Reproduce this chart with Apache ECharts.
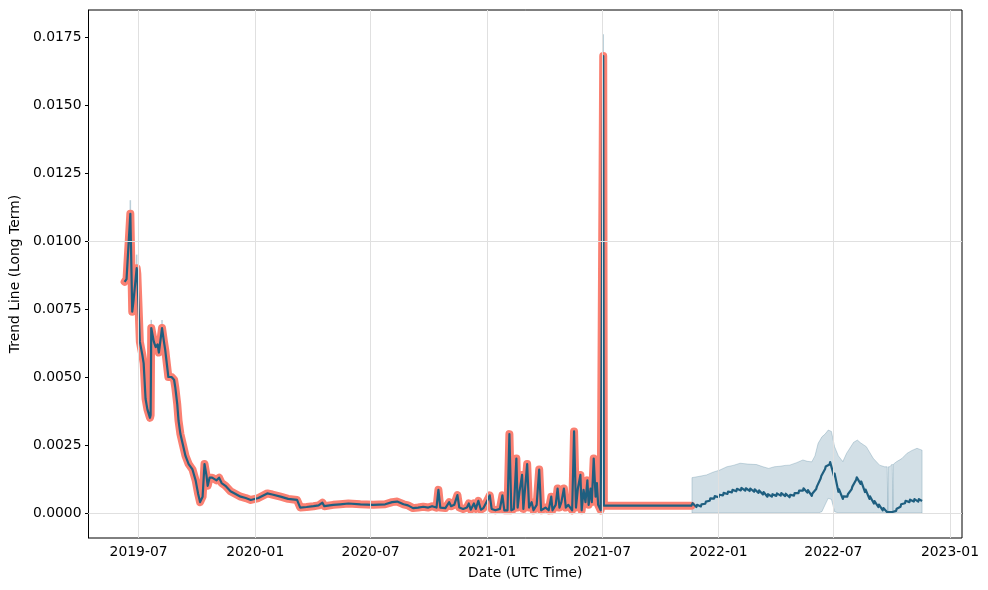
<!DOCTYPE html>
<html><head><meta charset="utf-8">
<script src="https://cdn.jsdelivr.net/npm/echarts@6/dist/echarts.min.js"></script>
<style>html,body{margin:0;padding:0;background:#fff}#c{width:988px;height:590px}</style>
</head><body><div id="c"></div>
<script>
// ---- Historical (actual) series ----
const histDates = [
 '2019-06-09','2019-06-12','2019-06-18','2019-06-21','2019-06-23','2019-06-28','2019-06-29',
 '2019-07-03','2019-07-07','2019-07-09','2019-07-12','2019-07-15','2019-07-19','2019-07-20','2019-07-21',
 '2019-07-25','2019-07-28','2019-07-31','2019-08-02','2019-08-07','2019-08-10','2019-08-12','2019-08-17',
 '2019-08-22','2019-08-26','2019-08-28','2019-08-31','2019-09-02','2019-09-05','2019-09-09','2019-09-13',
 '2019-09-18','2019-09-24','2019-09-29','2019-10-03','2019-10-06','2019-10-10','2019-10-13','2019-10-16',
 '2019-10-18','2019-10-21','2019-10-25','2019-11-01','2019-11-05','2019-11-09','2019-11-15','2019-11-23',
 '2019-12-01','2019-12-09','2019-12-17','2019-12-25','2020-01-06','2020-01-20','2020-01-28','2020-02-10',
 '2020-02-22','2020-03-07','2020-03-12','2020-03-22','2020-04-02','2020-04-10','2020-04-16','2020-04-19',
 '2020-05-03','2020-05-14','2020-05-27','2020-05-29','2020-06-15','2020-07-05','2020-07-24','2020-08-04',
 '2020-08-12','2020-08-22','2020-08-29','2020-09-06','2020-09-14','2020-09-22','2020-09-30','2020-10-06',
 '2020-10-13','2020-10-16','2020-10-19','2020-10-27','2020-11-02','2020-11-05','2020-11-10','2020-11-15',
 '2020-11-18','2020-11-24','2020-11-30','2020-12-03','2020-12-06','2020-12-11','2020-12-14','2020-12-18',
 '2020-12-22','2020-12-26','2021-01-02','2021-01-05','2021-01-08','2021-01-14','2021-01-21','2021-01-25',
 '2021-01-28','2021-02-02','2021-02-05','2021-02-08','2021-02-12','2021-02-16','2021-02-18','2021-02-21',
 '2021-02-25','2021-02-27','2021-03-05','2021-03-08','2021-03-12','2021-03-15','2021-03-20','2021-03-24',
 '2021-03-27','2021-04-03','2021-04-08','2021-04-12','2021-04-14','2021-04-19','2021-04-22','2021-04-25',
 '2021-04-28','2021-05-02','2021-05-05','2021-05-09','2021-05-12','2021-05-15','2021-05-18','2021-05-21',
 '2021-05-24','2021-05-28','2021-05-30','2021-06-02','2021-06-05','2021-06-08','2021-06-10','2021-06-13',
 '2021-06-15','2021-06-18','2021-06-21','2021-06-23','2021-06-25','2021-06-29','2021-07-02','2021-07-03',
 '2021-07-04','2021-08-15','2021-10-01','2021-11-19'
];
const histValues = [
 0.0085,0.0086,0.0110,0.0074,0.0078,0.0090,0.0088,
 0.0063,0.0058,0.0055,0.0042,0.0038,0.0035,0.0036,0.0068,
 0.0063,0.0061,0.0062,0.0059,0.0068,0.0063,0.0060,0.0050,
 0.0050,0.0049,0.0046,0.0040,0.0034,0.0029,0.0025,0.0021,
 0.0018,0.0016,0.0012,0.0007,0.0004,0.0006,0.0018,0.0014,
 0.0010,0.0013,0.0013,0.0012,0.0013,0.0011,0.0010,0.0008,
 0.0007,0.0006,0.00055,0.00048,0.00055,0.00072,0.00068,0.0006,
 0.00052,0.00048,0.0002,0.00022,0.00025,0.00028,0.00038,0.00025,
 0.0003,0.00032,0.00035,0.0004,0.00032,0.0003,0.00032,0.0004,
 0.00042,0.00032,0.00028,0.00018,0.0002,0.00023,0.0002,0.00025,
 0.0002,0.00085,0.0002,0.00018,0.0004,0.00025,0.0003,0.00066,
 0.0002,0.00015,0.0002,0.00035,0.00012,0.00035,0.00015,0.00045,
 0.00012,0.00018,0.0005,0.00065,0.00015,0.0001,0.00015,0.00065,
 0.0001,0.0001,0.0029,0.0001,0.00015,0.0020,0.0002,0.0008,
 0.0014,0.00015,0.0018,0.0002,0.0004,0.0001,0.0003,0.0016,
 0.0001,0.0002,0.0001,0.0006,0.0001,0.0003,0.0009,0.0002,
 0.0004,0.0009,0.0002,0.0003,0.0002,0.0001,0.0030,0.0002,
 0.0009,0.0014,0.0001,0.00085,0.0004,0.0012,0.0003,0.0009,
 0.0004,0.0020,0.0006,0.0011,0.0003,0.0001,0.00015,0.0168,
 0.00027,0.00027,0.00027,0.00027
];
// ---- Upper uncertainty visible above historical peaks ----
const histBandDates = ['2019-06-18','2019-06-28','2019-07-21','2019-08-07','2021-07-03'];
const histBandLow   = [0.0110,0.0090,0.0068,0.0068,0.0168];
const histBandHigh  = [0.0115,0.0095,0.0071,0.0071,0.0176];
// ---- Forecast trend (weekly base and weekly bump) ----
const fcDates = [
 '2021-11-20','2021-11-27','2021-12-04','2021-12-11','2021-12-18','2021-12-25','2022-01-01','2022-01-08',
 '2022-01-15','2022-01-22','2022-01-29','2022-02-05','2022-02-12','2022-02-19','2022-02-26','2022-03-05',
 '2022-03-12','2022-03-19','2022-03-26','2022-04-02','2022-04-09','2022-04-16','2022-04-23','2022-04-30',
 '2022-05-07','2022-05-14','2022-05-21','2022-05-28','2022-06-04','2022-06-11','2022-06-18','2022-06-25',
 '2022-07-02','2022-07-09','2022-07-16','2022-07-23','2022-07-30','2022-08-06','2022-08-13','2022-08-20',
 '2022-08-27','2022-09-03','2022-09-10','2022-09-17','2022-09-24','2022-10-01','2022-10-08','2022-10-15',
 '2022-10-22','2022-10-29','2022-11-05','2022-11-12'
];
const fcBase = [
 0.00028,0.00022,0.00024,0.00034,0.00045,0.00053,0.00058,0.00065,
 0.0007,0.00076,0.0008,0.00083,0.00082,0.00081,0.00078,0.00074,
 0.00068,0.0006,0.0006,0.00063,0.00064,0.00062,0.00058,0.00064,
 0.00073,0.00082,0.00075,0.00063,0.00088,0.00127,0.00162,0.00178,
 0.00136,0.00078,0.00052,0.0006,0.00088,0.00122,0.00107,0.00077,
 0.00052,0.00035,0.00022,0.0001,0.00003,0.00003,0.00008,0.00023,
 0.00036,0.0004,0.00042,0.00042
];
const fcPeak = [
 0.00036,0.0003,0.00032,0.00042,0.00054,0.00062,0.00067,0.00074,
 0.00079,0.00085,0.00089,0.00092,0.00091,0.0009,0.00087,0.00083,
 0.00077,0.00069,0.00069,0.00072,0.00073,0.00071,0.00067,0.00073,
 0.00082,0.00091,0.00084,0.00072,0.00097,0.00136,0.00171,0.00187,
 0.00145,0.00087,0.00061,0.00069,0.00097,0.00131,0.00116,0.00086,
 0.00061,0.00044,0.00031,0.00018,0.00008,0.00008,0.00016,0.00032,
 0.00045,0.00049,0.00051,0.00051
];
const fcEndDate = '2022-11-18';
const fcEndValue = 0.00044;
// ---- Forecast uncertainty band ----
const bandDates = [
 '2021-11-20','2021-12-02','2021-12-13','2021-12-23','2022-01-03','2022-01-14','2022-01-24','2022-02-04',
 '2022-02-16','2022-03-02','2022-03-12','2022-03-21','2022-03-30','2022-04-08','2022-04-16','2022-04-23',
 '2022-05-04','2022-05-14','2022-05-21','2022-05-28','2022-06-02','2022-06-07','2022-06-13','2022-06-18',
 '2022-06-23','2022-06-28','2022-07-03','2022-07-09','2022-07-16','2022-07-22','2022-07-27','2022-08-02',
 '2022-08-08','2022-08-13','2022-08-22','2022-09-02','2022-09-12','2022-09-20','2022-09-24','2022-09-25',
 '2022-09-26','2022-09-28','2022-10-02','2022-10-03','2022-10-04','2022-10-09','2022-10-17','2022-10-25',
 '2022-11-02','2022-11-10','2022-11-18'
];
const bandUpper = [
 0.0013,0.00135,0.0014,0.0015,0.00158,0.0017,0.00175,0.00183,
 0.0018,0.00178,0.0017,0.00164,0.0017,0.00172,0.00175,0.00176,
 0.00185,0.00195,0.0019,0.00188,0.0021,0.00256,0.0028,0.0029,
 0.00305,0.003,0.00244,0.0021,0.00189,0.0022,0.00238,0.0026,
 0.00268,0.00258,0.00244,0.00201,0.00176,0.0017,0.0017,0.00005,
 0.0017,0.0017,0.0018,0.00005,0.0018,0.00189,0.002,0.00219,
 0.0023,0.00238,0.00231
];
const bandLower = [
 0,0,0,0,0,0,0,0,
 0,0,0,0,0,0,0,0,
 0,0,0,0,0,0,0.00005,0.0003,
 0.00054,0.0005,0.00005,0,0,0,0,0,
 0,0,0,0,0,0,0,0,
 0,0,0,0,0,0,0,0,
 0,0,0
];
const xTickLabels = ['2019-07','2020-01','2020-07','2021-01','2021-07','2022-01','2022-07','2023-01'];
const yTickValues = [0,0.0025,0.005,0.0075,0.01,0.0125,0.015,0.0175];

const DAY = 86400000;
const ts = s => { const p = s.split('-').map(Number); return Date.UTC(p[0], p[1]-1, p[2] || 1); };
const xTicks = xTickLabels.map(ts);
const pad = n => (n < 10 ? '0' : '') + n;
const fmtX = v => { const d = new Date(v); return d.getUTCFullYear() + '-' + pad(d.getUTCMonth()+1); };

const actual = histDates.map((d,i) => [ts(d), histValues[i]]);
const fcLine = [];
fcDates.forEach((d,i) => { fcLine.push([ts(d), fcBase[i]]); fcLine.push([ts(d) + DAY, fcPeak[i]]); });
fcLine.push([ts(fcEndDate), fcEndValue]);
const yhat = histDates.map((d,i) => [ts(d), histValues[i]]).concat(fcLine);
const bandT = bandDates.map(ts);
const bandData = bandDates.map((d,i) => [bandT[i], bandLower[i], bandUpper[i]]);
const histBandData = histBandDates.map((d,i) => [ts(d), histBandLow[i], histBandHigh[i]]);

const bandFill = 'rgba(31,95,128,0.2)';
const bandEdge = 'rgba(31,95,128,0.22)';
const font = 'DejaVu Sans';
const chart = echarts.init(document.getElementById('c'), null, {renderer:'canvas'});
chart.setOption({
  animation: false,
  backgroundColor: '#fff',
  grid: {left: 88, right: 26, top: 10, bottom: 52, show: true, borderColor: '#000', borderWidth: 1, backgroundColor: 'transparent'},
  xAxis: {
    type: 'value', min: ts('2019-04-13'), max: ts('2023-01-20'),
    name: 'Date (UTC Time)', nameLocation: 'middle', nameGap: 28,
    nameTextStyle: {fontFamily: font, fontSize: 13.9, color: '#000'},
    axisLine: {show: true, lineStyle: {color: '#000', width: 1}},
    axisTick: {show: true, inside: false, length: 3.5, customValues: xTicks, lineStyle: {color: '#000', width: 1}},
    axisLabel: {customValues: xTicks, formatter: fmtX, margin: 7, fontFamily: font, fontSize: 13.9, color: '#000'},
    splitLine: {show: false}
  },
  yAxis: {
    type: 'value', min: -0.000919, max: 0.018493,
    name: 'Trend Line (Long Term)', nameLocation: 'middle', nameGap: 58,
    nameTextStyle: {fontFamily: font, fontSize: 13.9, color: '#000'},
    axisLine: {show: true, lineStyle: {color: '#000', width: 1}},
    axisTick: {show: true, inside: false, length: 3.5, customValues: yTickValues, lineStyle: {color: '#000', width: 1}},
    axisLabel: {customValues: yTickValues, formatter: v => v.toFixed(4), margin: 7, fontFamily: font, fontSize: 13.9, color: '#000'},
    splitLine: {show: false}
  },
  series: [
    {type: 'line', name: 'grid', data: [], silent: true,
     markLine: {silent: true, symbol: 'none', label: {show: false}, animation: false,
       lineStyle: {color: '#e0e0e0', width: 1, type: 'solid'},
       data: xTicks.map(t => ({xAxis: t})).concat(yTickValues.map(v => ({yAxis: v})))}},
    {type: 'custom', name: 'band', data: bandData, silent: true, z: 1,
     encode: {x: 0, y: [1, 2]},
     renderItem: (params, api) => {
       if (params.dataIndex !== 0) return null;
       const pts = [];
       for (let i = 0; i < bandT.length; i++) pts.push(api.coord([bandT[i], bandUpper[i]]));
       for (let i = bandT.length - 1; i >= 0; i--) pts.push(api.coord([bandT[i], bandLower[i]]));
       return {type: 'polygon', shape: {points: pts},
               style: {fill: bandFill, stroke: bandEdge, lineWidth: 1}};
     }},
    {type: 'custom', name: 'histBand', data: histBandData, silent: true, z: 1,
     encode: {x: 0, y: [1, 2]},
     renderItem: (params, api) => {
       const a = api.coord([api.value(0), api.value(1)]);
       const b = api.coord([api.value(0), api.value(2)]);
       return {type: 'line', shape: {x1: a[0], y1: a[1], x2: b[0], y2: b[1]},
               style: {stroke: 'rgba(31,95,128,0.3)', lineWidth: 1.5}};
     }},
    {type: 'line', name: 'actual', data: actual, showSymbol: false,
     lineStyle: {color: '#FA8072', width: 8, join: 'round', cap: 'round'}, z: 3},
    {type: 'line', name: 'trend', data: yhat, showSymbol: false,
     lineStyle: {color: '#1f5f80', width: 2.2, join: 'round'}, z: 4}
  ]
});
</script></body></html>
